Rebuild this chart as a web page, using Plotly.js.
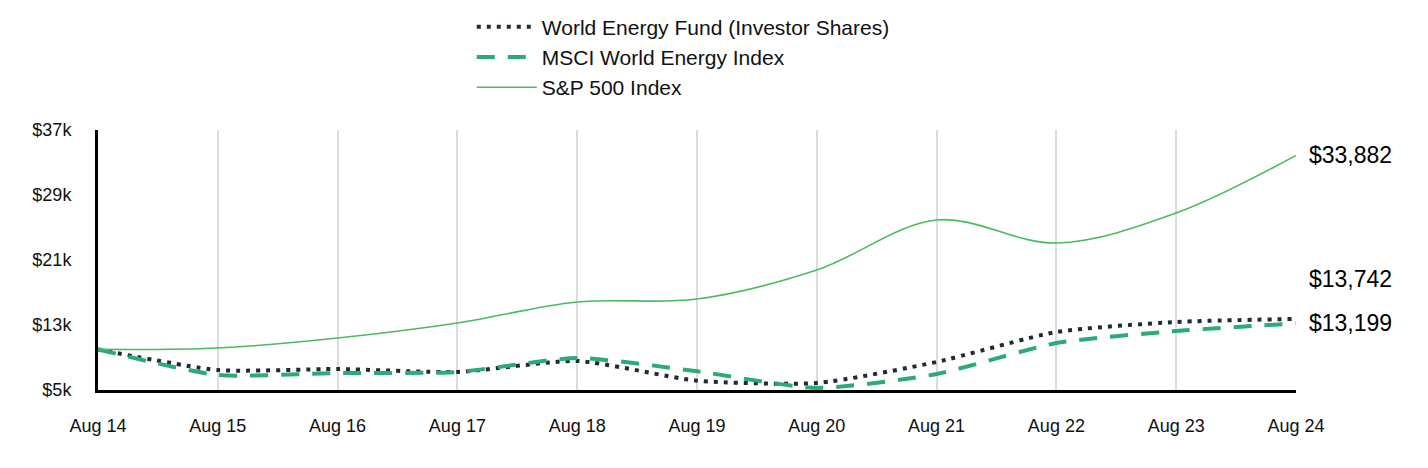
<!DOCTYPE html>
<html>
<head>
<meta charset="utf-8">
<script src="https://cdn.plot.ly/plotly-3.0.1.min.js"></script>
<style>html,body{margin:0;padding:0;background:#fff;}#chart{width:1428px;height:468px;}</style>
</head>
<body>
<div id="chart"></div>
<script>
const categories = ["Aug 14","Aug 15","Aug 16","Aug 17","Aug 18","Aug 19","Aug 20","Aug 21","Aug 22","Aug 23","Aug 24"];
const fundValues = [10000, 7460, 7580, 7220, 8570, 6150, 5860, 8450, 12140, 13370, 13742];
const msciValues = [10000, 6850, 7090, 7220, 8940, 7300, 5250, 6970, 10780, 12260, 13199];
const spValues   = [10000, 10170, 11400, 13250, 15830, 16200, 19770, 25920, 23090, 26780, 33882];
const seriesNames = ["World Energy Fund (Investor Shares)", "MSCI World Energy Index", "S&P 500 Index"];
const yTickVals = [5000, 13000, 21000, 29000, 37000];
const yTickText = ["$5k", "$13k", "$21k", "$29k", "$37k"];

const fmt = v => "$" + v.toLocaleString("en-US");

const traces = [
  {x: categories, y: fundValues, name: seriesNames[0], type: "scatter", mode: "lines",
   line: {color: "#1f2a37", width: 4, dash: "4px,6px", shape: "spline", smoothing: 0.6}},
  {x: categories, y: msciValues, name: seriesNames[1], type: "scatter", mode: "lines",
   line: {color: "#2aab78", width: 4, dash: "18px,13px", shape: "spline", smoothing: 0.6}},
  {x: categories, y: spValues, name: seriesNames[2], type: "scatter", mode: "lines",
   line: {color: "#4cbb5e", width: 1.6, shape: "spline", smoothing: 1}}
];

const last = categories.length - 1;
const endVals = [fundValues[last], msciValues[last], spValues[last]];
const yShifts = [40, 0, 0];
const annotations = endVals.map((v, i) => ({
  x: categories[last], y: v, xref: "x", yref: "y", text: fmt(v), showarrow: false,
  xanchor: "left", yanchor: "middle", xshift: 11, yshift: yShifts[i],
  font: {family: "Liberation Sans, Arial, sans-serif", size: 23, color: "#000"}
}));

const layout = {
  width: 1428, height: 468,
  margin: {l: 98, r: 132, t: 130, b: 78, autoexpand: false},
  paper_bgcolor: "#fff", plot_bgcolor: "#fff",
  font: {family: "Liberation Sans, Arial, sans-serif", size: 18, color: "#111"},
  showlegend: true,
  legend: {x: 0.312, xanchor: "left", y: 1.475, yanchor: "top", orientation: "v",
           itemwidth: 60, font: {size: 21, color: "#111"}, bgcolor: "rgba(0,0,0,0)"},
  xaxis: {type: "category", range: [0, last], showgrid: true, gridcolor: "#dcdcdc", gridwidth: 2,
          showline: true, linecolor: "#000", linewidth: 3, ticks: "", zeroline: false,
          ticklabelstandoff: 17, tickfont: {size: 18, color: "#111"}, fixedrange: true},
  yaxis: {range: [5000, 37000], tickvals: yTickVals, ticktext: yTickText, showgrid: false,
          showline: true, linecolor: "#000", linewidth: 3, ticks: "", zeroline: false,
          ticklabelstandoff: 20, tickfont: {size: 18, color: "#111"}, fixedrange: true},
  annotations: annotations
};

Plotly.newPlot("chart", traces, layout, {displayModeBar: false, staticPlot: true});
</script>
</body>
</html>
